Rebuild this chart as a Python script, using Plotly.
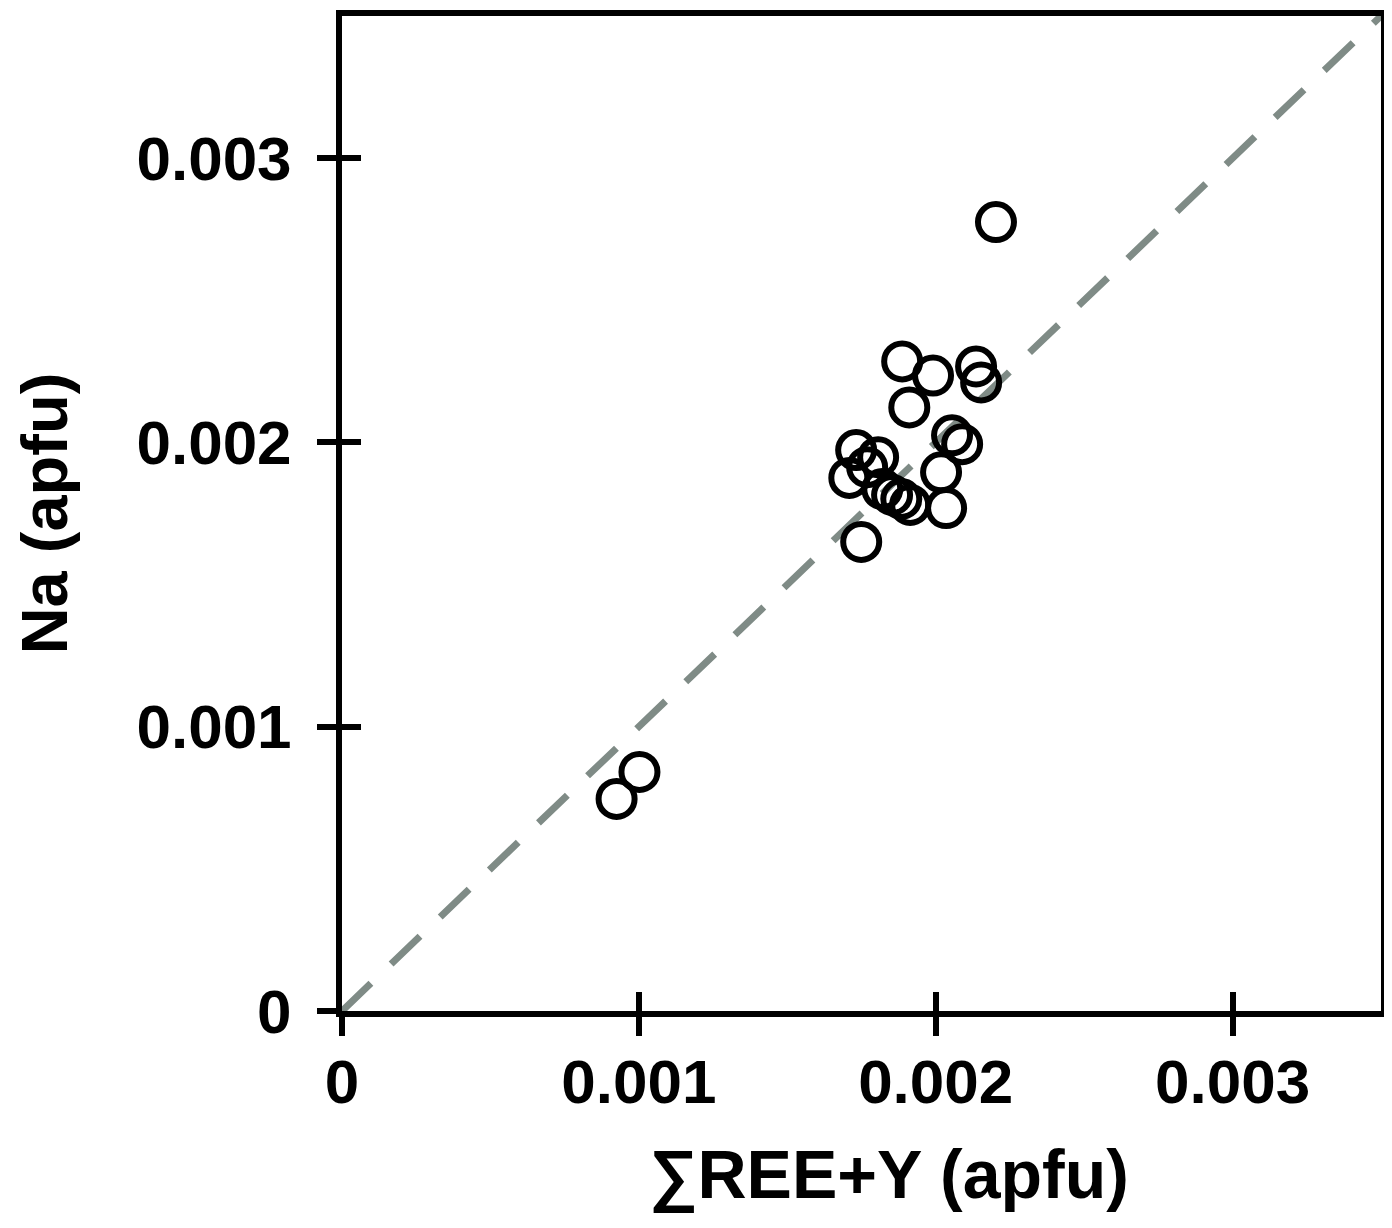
import plotly.graph_objects as go

# Data (apfu)
ree_y = [0.002203, 0.000925, 0.001002, 0.001887, 0.001991, 0.001911, 0.002136, 0.002153,
         0.002055, 0.002089, 0.002018, 0.002035, 0.001749, 0.001732, 0.001806, 0.001709,
         0.001769, 0.001820, 0.001853, 0.001884, 0.001914]
na = [0.002775, 0.000746, 0.000841, 0.002285, 0.002235, 0.002123, 0.002267, 0.002211,
      0.002025, 0.001994, 0.001895, 0.001769, 0.001650, 0.001973, 0.001948, 0.001875,
      0.001913, 0.001836, 0.001815, 0.001801, 0.001780]
line_x = [0, 0.0035]
line_y = [0, 0.0035]
tick_vals = [0, 0.001, 0.002, 0.003]
tick_text = ["0", "0.001", "0.002", "0.003"]

FONT = "Liberation Sans, Arial, sans-serif"
RNG = [0, 0.0035]
TICKFONT = dict(family=FONT, size=62, color="black", weight="bold")
XTITLEFONT = dict(family=FONT, size=68, color="black")
YTITLEFONT = dict(family=FONT, size=65, color="black")

fig = go.Figure()
fig.add_trace(go.Scatter(x=line_x, y=line_y, mode="lines",
                         line=dict(color="#7f8b86", width=7, dash="40px,28px"),
                         hoverinfo="skip", showlegend=False))
fig.add_trace(go.Scatter(x=ree_y, y=na, mode="markers",
                         marker=dict(symbol="circle-open", size=36,
                                     line=dict(color="black", width=6), color="black"),
                         showlegend=False))
# invisible trace to activate the overlay axes
fig.add_trace(go.Scatter(x=[None], y=[None], xaxis="x2", yaxis="y2", showlegend=False,
                         hoverinfo="skip"))

axis_common = dict(range=RNG, tickvals=tick_vals, ticktext=tick_text, showgrid=False,
                   zeroline=False, ticks="outside", ticklen=19, tickwidth=6, tickcolor="black",
                   showline=True, linecolor="black", linewidth=6, mirror=True,
                   tickfont=TICKFONT)
overlay_common = dict(range=RNG, tickvals=tick_vals, showgrid=False, zeroline=False,
                      ticks="inside", ticklen=19, tickwidth=6, tickcolor="black",
                      showticklabels=False, showline=False)

# page body has an 8px margin -> shift figure geometry accordingly
fig.update_layout(
    width=1381, height=1212,
    margin=dict(l=334, r=2, t=5, b=209),
    paper_bgcolor="white", plot_bgcolor="white",
    xaxis=dict(**axis_common, ticklabelstandoff=-7),
    yaxis=dict(**axis_common, ticklabelstandoff=13),
    xaxis2=dict(**overlay_common, overlaying="x"),
    yaxis2=dict(**overlay_common, overlaying="y"),
    annotations=[
        dict(text="<b>∑REE+Y (apfu)</b>", x=0.526, y=-0.165, xref="paper", yref="paper",
             showarrow=False, font=XTITLEFONT, xanchor="center", yanchor="middle"),
        dict(text="<b>Na (apfu)</b>", x=-0.286, y=0.5, xref="paper", yref="paper",
             showarrow=False, textangle=-90, font=YTITLEFONT,
             xanchor="center", yanchor="middle"),
    ],
)

fig.write_html("out.html")
